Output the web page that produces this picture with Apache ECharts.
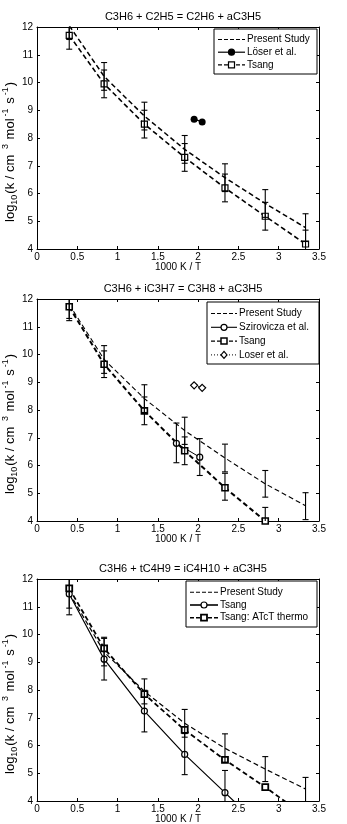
<!DOCTYPE html>
<html>
<head>
<meta charset="utf-8">
<script src="https://cdn.jsdelivr.net/npm/echarts@6/dist/echarts.min.js"></script>
<style>
html, body { margin: 0; padding: 0; background: #fff; }
#main { width: 347px; height: 824px; }
</style>
</head>
<body>
<div id="main"></div>
<script>
// 1000 K / T points
const xPts = [0.4, 0.833, 1.333, 1.833, 2.333, 2.833, 3.333];

const titles = [
	'C3H6 + C2H5 = C2H6 + aC3H5',
	'C3H6 + iC3H7 = C3H8 + aC3H5',
	'C3H6 + tC4H9 = iC4H10 + aC3H5'
];

// panel 1
const present1 = [12.05, 10.22, 8.79, 7.59, 6.57, 5.64, 4.77];
const present1Lo = [11.55, 9.72, 8.29, 7.09, 6.07, 5.14, 4.27];
const present1Hi = [12.55, 10.72, 9.29, 8.09, 7.07, 6.14, 5.27];
const tsang1 = [11.7, 9.95, 8.5, 7.3, 6.2, 5.18, 4.18];
const tsang1Lo = [11.2, 9.45, 8.0, 6.8, 5.7, 4.68, 3.68];
const tsang1Hi = [12.2, 10.45, 9.0, 7.8, 6.7, 5.68, 4.68];
const loser1X = [1.95, 2.05];
const loser1 = [8.68, 8.58];

// panel 2
const present2 = [11.8, 9.82, 8.41, 7.26, 6.27, 5.34, 4.55];
const present2Lo = [11.3, 9.32, 7.91, 6.76, 5.77, 4.86, 4.05];
const present2Hi = [12.3, 10.32, 8.91, 7.74, 6.77, 5.82, 5.02];
const tsang2 = [11.72, 9.65, 7.97, 6.53, 5.2, 4.0];
const tsang2Lo = [11.22, 9.17, 7.47, 6.03, 4.75, 3.5];
const tsang2Hi = [12.22, 10.13, 8.47, 7.03, 5.72, 4.49];
const sziroX = [1.73, 2.02];
const sziro = [6.8, 6.3];
const sziroLo = [6.1, 5.64];
const sziroHi = [7.53, 6.97];
const loser2X = [1.95, 2.05];
const loser2 = [8.89, 8.8];

// panel 3
const present3 = [11.5, 9.37, 7.95, 6.8, 5.9, 5.15, 4.43];
const present3Lo = [10.95, 8.87, 7.5, 6.3, 5.4, 4.7, 3.98];
const present3Hi = [12.05, 9.9, 8.4, 7.3, 6.42, 5.6, 4.85];
const tsang3 = [11.46, 9.11, 7.24, 5.68, 4.3, 2.92];
const tsang3Lo = [10.71, 8.36, 6.49, 4.95, 3.55];
const tsang3Hi = [12.21, 9.86, 7.99, 6.43, 5.1];
const atct3 = [11.66, 9.5, 7.85, 6.56, 5.48, 4.5, 3.45];

const FONT = 'Liberation Sans';
const gridTops = [27, 299, 579];
const GRID_LEFT = 37, GRID_W = 282, GRID_H = 222;

function pairs(xs, ys) {
	return ys.map((y, i) => [xs[i], y]);
}

function errData(xs, lo, hi) {
	return lo.map((l, i) => [xs[i], l, hi[i]]);
}

function errRender(params, api) {
	const x = api.value(0), lo = api.value(1), hi = api.value(2);
	const cs = params.coordSys;
	const top = api.coord([x, hi]);
	const bot = api.coord([x, lo]);
	const yTop = Math.max(top[1], cs.y);
	const yBot = Math.min(bot[1], cs.y + cs.height);
	const px = top[0];
	const st = { stroke: '#000', lineWidth: 1.1 };
	const children = [{ type: 'line', shape: { x1: px, y1: yTop, x2: px, y2: yBot }, style: st }];
	if (top[1] >= cs.y) children.push({ type: 'line', shape: { x1: px - 3, y1: top[1], x2: px + 3, y2: top[1] }, style: st });
	if (bot[1] <= cs.y + cs.height) children.push({ type: 'line', shape: { x1: px - 3, y1: bot[1], x2: px + 3, y2: bot[1] }, style: st });
	return { type: 'group', children };
}

function errSeries(p, data) {
	return {
		type: 'custom', xAxisIndex: p * 2, yAxisIndex: p * 2,
		renderItem: errRender, data, encode: { x: 0, y: [1, 2] }, z: 5, silent: true
	};
}

function lineSeries(p, data, opt) {
	return Object.assign({
		type: 'line', xAxisIndex: p * 2, yAxisIndex: p * 2, data,
		showSymbol: true, symbol: 'none', clip: true, silent: true,
		lineStyle: { color: '#000', width: 1.2, type: 'solid' },
		itemStyle: { color: '#fff', borderColor: '#000', borderWidth: 1.2 }
	}, opt);
}

const yName = '{m|log}{sub|10}{m|(k / cm }{sup|3}{m| mol}{sup|-1}{m| s}{sup|-1}{m|)}';
const yRich = {
	m: { fontSize: 13, fontFamily: FONT, color: '#000', lineHeight: 18, verticalAlign: 'middle' },
	sub: { fontSize: 9, fontFamily: FONT, color: '#000', lineHeight: 18, verticalAlign: 'bottom', padding: [0, 1, 0, 0] },
	sup: { fontSize: 9, fontFamily: FONT, color: '#000', lineHeight: 18, verticalAlign: 'top', padding: [0, 1, 0, 2] }
};

const xAxes = [], yAxes = [], grids = [];
gridTops.forEach((t, p) => {
	grids.push({ left: GRID_LEFT, top: t, width: GRID_W, height: GRID_H, show: false, containLabel: false, outerBoundsMode: 'none' });
	xAxes.push({
		gridIndex: p, type: 'value', min: 0, max: 3.5, interval: 0.5, position: 'bottom',
		axisLine: { show: true, lineStyle: { color: '#000', width: 1 } },
		axisTick: { show: true, inside: true, length: 3, lineStyle: { color: '#000' } },
		axisLabel: { color: '#000', fontSize: 10, fontFamily: FONT, margin: 3 },
		splitLine: { show: false },
		name: '1000 K / T', nameLocation: 'middle', nameGap: 13.5, nameMoveOverlap: false,
		nameTextStyle: { color: '#000', fontSize: 10, fontFamily: FONT }
	});
	xAxes.push({
		gridIndex: p, type: 'value', min: 0, max: 3.5, interval: 0.5, position: 'top',
		axisLine: { show: true, onZero: false, lineStyle: { color: '#000', width: 1 } },
		axisTick: { show: true, inside: true, length: 3, lineStyle: { color: '#000' } },
		axisLabel: { show: false }, splitLine: { show: false }
	});
	yAxes.push({
		gridIndex: p, type: 'value', min: 4, max: 12, interval: 1, position: 'left',
		axisLine: { show: true, onZero: false, lineStyle: { color: '#000', width: 1 } },
		axisTick: { show: true, inside: true, length: 3, lineStyle: { color: '#000' } },
		axisLabel: { color: '#000', fontSize: 10, fontFamily: FONT, margin: 4 },
		splitLine: { show: false },
		name: yName, nameLocation: 'middle', nameGap: 18, nameRotate: 90, nameMoveOverlap: false,
		nameTextStyle: { color: '#000', fontSize: 13, fontFamily: FONT, rich: yRich, padding: [0, 28, 0, 0] }
	});
	yAxes.push({
		gridIndex: p, type: 'value', min: 4, max: 12, interval: 1, position: 'right',
		axisLine: { show: true, onZero: false, lineStyle: { color: '#000', width: 1 } },
		axisTick: { show: true, inside: true, length: 3, lineStyle: { color: '#000' } },
		axisLabel: { show: false }, splitLine: { show: false }
	});
});

const dash = [5, 3];
const series = [
	// panel 1
	lineSeries(0, pairs(xPts, present1), { lineStyle: { color: '#000', width: 1.5, type: dash } }),
	lineSeries(0, pairs(xPts, tsang1), { symbol: 'rect', symbolSize: 6, lineStyle: { color: '#000', width: 1.6, type: dash } }),
	lineSeries(0, pairs(loser1X, loser1), { symbol: 'circle', symbolSize: 7, itemStyle: { color: '#000' }, lineStyle: { color: '#000', width: 1.2 } }),
	errSeries(0, errData(xPts, present1Lo, present1Hi)),
	errSeries(0, errData(xPts, tsang1Lo, tsang1Hi)),
	// panel 2
	lineSeries(1, pairs(xPts, present2), { lineStyle: { color: '#000', width: 1.1, type: dash } }),
	lineSeries(1, pairs(xPts, tsang2), { symbol: 'rect', symbolSize: 6, itemStyle: { color: '#fff', borderColor: '#000', borderWidth: 1.6 }, lineStyle: { color: '#000', width: 2, type: dash } }),
	lineSeries(1, pairs(sziroX, sziro), { symbol: 'circle', symbolSize: 6, lineStyle: { color: '#000', width: 1 } }),
	lineSeries(1, pairs(loser2X, loser2), { symbol: 'diamond', symbolSize: 7, lineStyle: { color: '#000', width: 1, type: 'dotted' } }),
	errSeries(1, errData(xPts, present2Lo, present2Hi)),
	errSeries(1, errData(xPts, tsang2Lo, tsang2Hi)),
	errSeries(1, errData(sziroX, sziroLo, sziroHi)),
	// panel 3
	lineSeries(2, pairs(xPts, present3), { lineStyle: { color: '#000', width: 1.2, type: dash } }),
	lineSeries(2, pairs(xPts, tsang3), { symbol: 'circle', symbolSize: 6, lineStyle: { color: '#000', width: 1.2 } }),
	lineSeries(2, pairs(xPts, atct3), { symbol: 'rect', symbolSize: 6, itemStyle: { color: '#fff', borderColor: '#000', borderWidth: 1.8 }, lineStyle: { color: '#000', width: 1.8, type: dash } }),
	errSeries(2, errData(xPts, present3Lo, present3Hi)),
	errSeries(2, errData(xPts, tsang3Lo, tsang3Hi))
];

// legend boxes drawn MATLAB-style
function legendBox(x, y, w, h, firstRow, rowH, sampleW, items) {
	const els = [{
		type: 'rect', z: 100, shape: { x: x, y: y, width: w, height: h },
		style: { fill: '#fff', stroke: '#000', lineWidth: 1 }
	}];
	items.forEach((it, k) => {
		const cy = firstRow + rowH * k;
		const x1 = x + 4, x2 = x + 4 + sampleW, mx = (x1 + x2) / 2;
		els.push({
			type: 'line', z: 101, shape: { x1: x1, y1: cy, x2: x2, y2: cy },
			style: { stroke: '#000', lineWidth: it.width, lineDash: it.dash || null }
		});
		const ms = { fill: it.fill || '#fff', stroke: '#000', lineWidth: it.mw || 1.2 };
		if (it.mark === 'rect') els.push({ type: 'rect', z: 102, shape: { x: mx - 3, y: cy - 3, width: 6, height: 6 }, style: ms });
		if (it.mark === 'circle') els.push({ type: 'circle', z: 102, shape: { cx: mx, cy: cy, r: 3 }, style: ms });
		if (it.mark === 'diamond') els.push({ type: 'polygon', z: 102, shape: { points: [[mx, cy - 3.5], [mx + 3, cy], [mx, cy + 3.5], [mx - 3, cy]] }, style: ms });
		els.push({
			type: 'text', z: 102, x: x2 + 2, y: cy,
			style: { text: it.label, fill: '#000', font: '10px ' + FONT, textVerticalAlign: 'middle', verticalAlign: 'middle' }
		});
	});
	return els;
}

const graphics = [].concat(
	legendBox(214, 29, 103, 45, 39.5, 12.7, 27, [
		{ label: 'Present Study', width: 1.2, dash: [4, 2] },
		{ label: 'L\u00f6ser et al.', width: 1.2, mark: 'circle', fill: '#000' },
		{ label: 'Tsang', width: 1.2, dash: [4, 2], mark: 'rect' }
	]),
	legendBox(207, 302, 112, 62, 313.5, 13.8, 26, [
		{ label: 'Present Study', width: 1.1, dash: [4, 2] },
		{ label: 'Szirovicza et al.', width: 1.1, mark: 'circle' },
		{ label: 'Tsang', width: 1.4, dash: [4, 2], mark: 'rect', mw: 1.5 },
		{ label: 'Loser et al.', width: 1, dash: [1, 2], mark: 'diamond' }
	]),
	legendBox(186, 581, 131, 46, 592.3, 12.7, 28, [
		{ label: 'Present Study', width: 1.1, dash: [4, 2] },
		{ label: 'Tsang', width: 1.6, mark: 'circle' },
		{ label: 'Tsang: ATcT thermo', width: 1.6, dash: [4, 2], mark: 'rect', mw: 1.8 }
	])
);

const chart = echarts.init(document.getElementById('main'), null, { renderer: 'canvas' });
chart.setOption({
	backgroundColor: '#fff',
	animation: false,
	title: titles.map((t, p) => ({
		text: t, left: GRID_LEFT + GRID_W / 2, top: gridTops[p] - 21, textAlign: 'center',
		textStyle: { color: '#000', fontSize: 11, fontWeight: 'normal', fontFamily: FONT }
	})),
	grid: grids,
	xAxis: xAxes,
	yAxis: yAxes,
	series: series,
	graphic: graphics
});
</script>
</body>
</html>
